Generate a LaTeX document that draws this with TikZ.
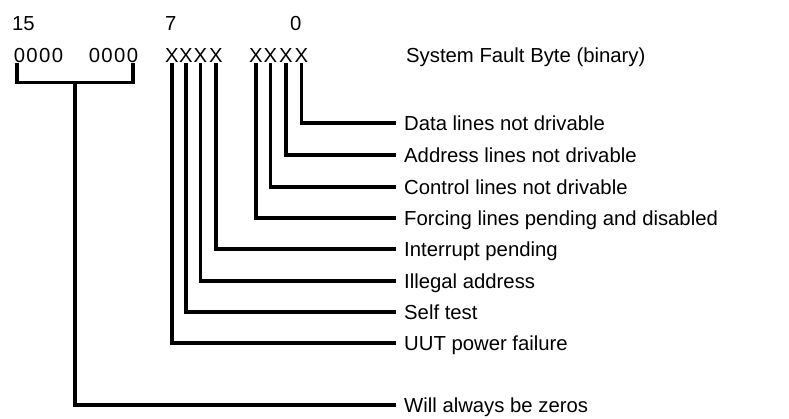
\documentclass[tikz,border=0pt]{standalone}
\usepackage{fontspec}
\setmainfont{Liberation Sans}
\begin{document}
\begin{tikzpicture}[x=1pt, y=-1pt,
    font=\fontsize{20.3}{24}\selectfont,
    wire/.style={line width=3.2pt, line join=miter},
    num/.style={anchor=base west, inner sep=0pt},
    bit/.style={anchor=base, inner sep=1pt},
    zeros/.style={anchor=base, inner sep=1pt,
        font=\fontsize{20.3}{24}\selectfont\addfontfeature{LetterSpace=7}},
    desc/.style={anchor=west, inner xsep=8pt, inner ysep=0pt,
        text height=14.6pt, text depth=0pt}]
\useasboundingbox (0, 0) rectangle (789, 418);

\node[num] (n15) at (12, 30) {15};
\node[num] (n7) at (165, 30) {7};
\node[num] (n0) at (290, 30) {0};

\node[zeros] (z1) at (38.5, 62) {0000};
\node[zeros] (z2) at (113.5, 62) {0000};
\node[bit] (b7) at (172, 62) {X};
\node[bit] (b6) at (186, 62) {X};
\node[bit] (b5) at (200.5, 62) {X};
\node[bit] (b4) at (216, 62) {X};
\node[bit] (b3) at (256, 62) {X};
\node[bit] (b2) at (270.5, 62) {X};
\node[bit] (b1) at (286, 62) {X};
\node[bit] (b0) at (301.5, 62) {X};
\node[num] (title) at (406, 62) {System Fault Byte (binary)};

\node[desc] (d0) at (396, 123) {Data lines not drivable};
\node[desc] (d1) at (396, 155) {Address lines not drivable};
\node[desc] (d2) at (396, 187) {Control lines not drivable};
\node[desc] (d3) at (396, 218) {Forcing lines pending and disabled};
\node[desc] (d4) at (396, 249) {Interrupt pending};
\node[desc] (d5) at (396, 281) {Illegal address};
\node[desc] (d6) at (396, 312) {Self test};
\node[desc] (d7) at (396, 343) {UUT power failure};
\node[desc] (dz) at (396, 405) {Will always be zeros};

\draw[wire] (b0.south) |- (d0.west);
\draw[wire] (b1.south) |- (d1.west);
\draw[wire] (b2.south) |- (d2.west);
\draw[wire] (b3.south) |- (d3.west);
\draw[wire] (b4.south) |- (d4.west);
\draw[wire] (b5.south) |- (d5.west);
\draw[wire] (b6.south) |- (d6.west);
\draw[wire] (b7.south) |- (d7.west);

% bracket under the upper byte
\coordinate (zl) at ([xshift=-21.5pt]z1.south);
\coordinate (zr) at ([xshift=19.5pt]z2.south);
\draw[wire]
    (zl) -- ++(0, 19) coordinate (zc) -- coordinate (zm) (zc -| zr) -- (zr);
\draw[wire]
    (zm) |- (dz.west);
\end{tikzpicture}
\end{document}
